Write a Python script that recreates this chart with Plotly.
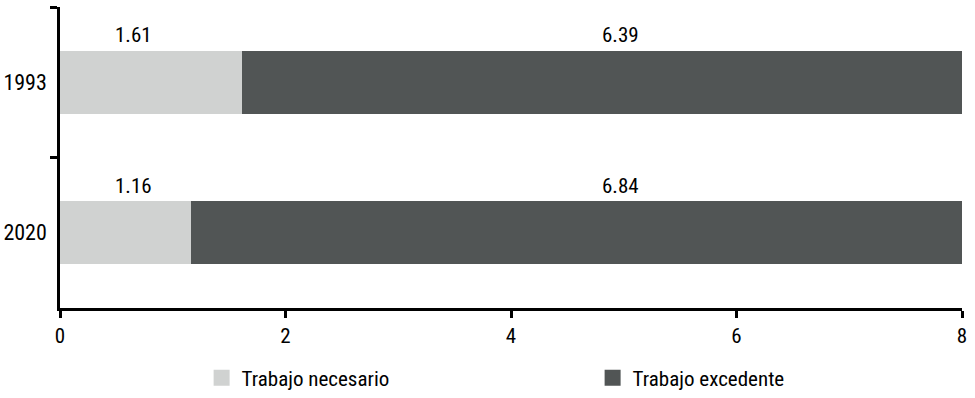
import plotly.graph_objects as go

years = ["1993", "2020"]
necesario = [1.61, 1.16]
excedente = [6.39, 6.84]
series_names = ["Trabajo necesario", "Trabajo excedente"]
x_ticks = [0, 2, 4, 6, 8]

FONT = "Roboto Condensed, Liberation Sans Narrow, sans-serif"
C_LIGHT = "#d0d2d1"
C_DARK = "#515555"
colors = [C_LIGHT, C_DARK]

fig = go.Figure()
for vals, name, col in zip([necesario, excedente], series_names, colors):
    fig.add_trace(go.Bar(y=years, x=vals, orientation="h", name=name, showlegend=False,
                         marker=dict(color=col, line=dict(width=0)), width=0.42))
# legend entries with larger square swatches
for name, col in zip(series_names, colors):
    fig.add_trace(go.Scatter(x=[None], y=[None], mode="markers", name=name,
                             marker=dict(symbol="square", size=16, color=col)))

# value labels above bars
for i, (n, e) in enumerate(zip(necesario, excedente)):
    fig.add_annotation(x=0.65, y=i, text=f"{n:.2f}", showarrow=False,
                       yanchor="bottom", yshift=33, font=dict(size=21, color="black", family=FONT))
    fig.add_annotation(x=4.97, y=i, text=f"{e:.2f}", showarrow=False,
                       yanchor="bottom", yshift=33, font=dict(size=21, color="black", family=FONT))

fig.update_layout(
    barmode="stack",
    width=975, height=398,
    margin=dict(l=60, r=13, t=7, b=90, autoexpand=False),
    plot_bgcolor="white", paper_bgcolor="white",
    font=dict(family=FONT, color="black", size=21),
    showlegend=True,
    legend=dict(orientation="h", x=0.157, xanchor="left", y=-0.165, yanchor="top",
                font=dict(size=21, family=FONT), entrywidth=346, entrywidthmode="pixels",
                itemwidth=30, traceorder="normal", borderwidth=0),
    xaxis=dict(range=[0, 8], tickvals=x_ticks, ticktext=[str(t) for t in x_ticks],
               automargin=False,
               showgrid=False, zeroline=False, showline=True, linecolor="black", linewidth=2.5,
               ticks="outside", ticklen=7, tickwidth=2.5, tickcolor="black",
               tickfont=dict(size=21, family=FONT)),
    yaxis=dict(type="category", categoryorder="array", categoryarray=years,
               range=[1.5, -0.5], autorange=False, automargin=False,
               showgrid=False, zeroline=False,
               showline=True, linecolor="black", linewidth=2.5,
               ticks="outside", ticklen=7, tickwidth=2.5, tickcolor="black",
               tickson="boundaries", ticklabelstandoff=6,
               tickfont=dict(size=22, family=FONT)),
)

fig.write_html("out.html", config={"displayModeBar": False},
               post_script="document.body.style.margin='0';")
